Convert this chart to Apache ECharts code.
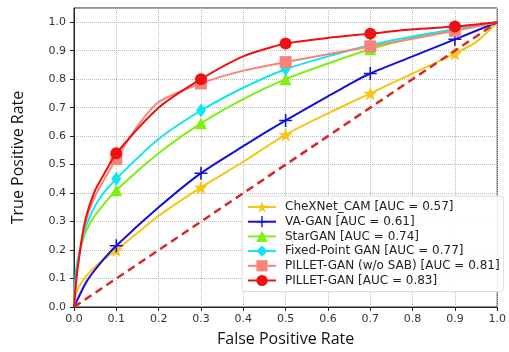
<!DOCTYPE html>
<html>
<head>
<meta charset="utf-8">
<script src="https://cdn.jsdelivr.net/npm/echarts@6/dist/echarts.min.js"></script>
<style>
  html, body { margin: 0; padding: 0; background: #fff; }
  #chart { width: 509px; height: 352px; }
</style>
</head>
<body>
<div id="chart"></div>
<script>
const markerFpr = [0.1, 0.3, 0.5, 0.7, 0.9]

const fprChexnet = [0, 0.008, 0.03, 0.06, 0.1, 0.15, 0.2, 0.3, 0.4, 0.5, 0.6, 0.7, 0.8, 0.9, 0.95, 1.0]
const tprChexnet = [0, 0.06, 0.11, 0.155, 0.2, 0.26, 0.32, 0.42, 0.51, 0.605, 0.68, 0.75, 0.82, 0.89, 0.93, 1.0]

const fprVagan = [0, 0.03, 0.06, 0.1, 0.2, 0.3, 0.4, 0.5, 0.6, 0.66, 0.7, 0.8, 0.9, 1.0]
const tprVagan = [0, 0.09, 0.15, 0.215, 0.35, 0.47, 0.565, 0.655, 0.74, 0.79, 0.82, 0.88, 0.94, 1.0]

const fprStargan = [0, 0.006, 0.02, 0.04, 0.07, 0.1, 0.2, 0.3, 0.4, 0.5, 0.6, 0.7, 0.8, 0.9, 1.0]
const tprStargan = [0, 0.12, 0.23, 0.3, 0.36, 0.41, 0.54, 0.645, 0.73, 0.8, 0.855, 0.905, 0.945, 0.975, 1.0]

const fprFixed = [0, 0.005, 0.014, 0.03, 0.06, 0.1, 0.2, 0.3, 0.4, 0.5, 0.6, 0.7, 0.8, 0.9, 1.0]
const tprFixed = [0, 0.13, 0.2, 0.29, 0.38, 0.45, 0.59, 0.69, 0.77, 0.835, 0.88, 0.92, 0.95, 0.975, 1.0]

const fprPilletNoSab = [0, 0.008, 0.026, 0.05, 0.076, 0.1, 0.15, 0.2, 0.3, 0.4, 0.5, 0.7, 0.9, 1.0]
const tprPilletNoSab = [0, 0.13, 0.29, 0.39, 0.46, 0.52, 0.635, 0.72, 0.785, 0.83, 0.86, 0.915, 0.97, 1.0]

const fprPillet = [0, 0.008, 0.026, 0.05, 0.076, 0.1, 0.2, 0.3, 0.4, 0.5, 0.6, 0.7, 0.8, 0.9, 1.0]
const tprPillet = [0, 0.13, 0.3, 0.41, 0.48, 0.54, 0.70, 0.80, 0.88, 0.925, 0.945, 0.96, 0.975, 0.985, 1.0]

const chanceLine = [[0, 0], [1, 1]]

function starPath() {
  const pts = []
  for (let k = 0; k < 10; k++) {
    const r = k % 2 === 0 ? 10 : 4
    const a = (-90 + 36 * k) * Math.PI / 180
    pts.push((10 + r * Math.cos(a)).toFixed(2) + ',' + (10 + r * Math.sin(a)).toFixed(2))
  }
  return 'path://M' + pts.join('L') + 'Z'
}

const plusPath = 'path://M4.4,0H5.6V4.4H10V5.6H5.6V10H4.4V5.6H0V4.4H4.4Z'

function curveData(xs, ys) {
  return xs.map((x, i) =>
    markerFpr.includes(x) ? [x, ys[i]] : { value: [x, ys[i]], symbol: 'none' }
  )
}

function rocSeries(name, xs, ys, color, symbol, symbolSize, z) {
  return {
    name,
    type: 'line',
    data: curveData(xs, ys),
    smooth: 0.25,
    symbol,
    symbolSize,
    showAllSymbol: true,
    z,
    lineStyle: { color, width: 2 },
    itemStyle: { color, borderWidth: 0 }
  }
}

const chart = echarts.init(document.getElementById('chart'))

chart.setOption({
  animation: false,
  textStyle: { fontFamily: 'DejaVu Sans' },
  grid: {
    left: 74,
    right: 6,
    top: 8,
    bottom: 45,
    show: true,
    borderColor: '#222',
    borderWidth: 1
  },
  legend: {
    left: 242,
    top: 196,
    orient: 'vertical',
    itemWidth: 28,
    itemHeight: 14,
    itemGap: 2.7,
    padding: [5, 4, 5, 5],
    backgroundColor: 'rgba(255,255,255,0.9)',
    borderColor: '#dddddd',
    borderWidth: 1,
    borderRadius: 3,
    textStyle: {
      fontFamily: 'DejaVu Sans',
      fontSize: 12,
      color: '#222',
      padding: [0, 0, 0, 4]
    },
    data: [
      'CheXNet_CAM [AUC = 0.57]',
      'VA-GAN [AUC = 0.61]',
      'StarGAN [AUC = 0.74]',
      'Fixed-Point GAN [AUC = 0.77]',
      'PILLET-GAN (w/o SAB) [AUC = 0.81]',
      'PILLET-GAN [AUC = 0.83]'
    ]
  },
  xAxis: {
    type: 'value',
    min: 0,
    max: 1.0,
    interval: 0.1,
    name: 'False Positive Rate',
    nameLocation: 'middle',
    nameGap: 24,
    nameTextStyle: { fontFamily: 'Open Sans', fontSize: 16, color: '#111' },
    axisLine: { show: true, onZero: false, lineStyle: { color: '#222' } },
    axisTick: { show: true, length: 4, lineStyle: { color: '#222' } },
    axisLabel: {
      color: '#333',
      fontSize: 11,
      margin: 7,
      formatter: (v) => v.toFixed(1)
    },
    splitLine: { show: true, lineStyle: { color: '#bbbbbb', type: 'dotted', width: 1 } }
  },
  yAxis: {
    type: 'value',
    min: 0,
    max: 1.05,
    interval: 0.1,
    name: 'True Positive Rate',
    nameLocation: 'middle',
    nameGap: 48,
    nameTextStyle: { fontFamily: 'Open Sans', fontSize: 16, color: '#111' },
    axisLine: { show: true, onZero: false, lineStyle: { color: '#222' } },
    axisTick: { show: true, length: 4, lineStyle: { color: '#222' } },
    axisLabel: {
      color: '#333',
      fontSize: 11,
      margin: 8,
      showMaxLabel: false,
      formatter: (v) => (v > 1.001 ? '' : v.toFixed(1))
    },
    splitLine: { show: true, lineStyle: { color: '#bbbbbb', type: 'dotted', width: 1 } }
  },
  series: [
    rocSeries('CheXNet_CAM [AUC = 0.57]', fprChexnet, tprChexnet, '#f7c518', starPath(), 14, 2),
    rocSeries('VA-GAN [AUC = 0.61]', fprVagan, tprVagan, '#1010d8', plusPath, 13, 3),
    rocSeries('StarGAN [AUC = 0.74]', fprStargan, tprStargan, '#80ee10', 'triangle', 12, 4),
    rocSeries('Fixed-Point GAN [AUC = 0.77]', fprFixed, tprFixed, '#10e6f0', 'diamond', [10, 14], 5),
    rocSeries('PILLET-GAN (w/o SAB) [AUC = 0.81]', fprPilletNoSab, tprPilletNoSab, '#f68478', 'rect', 12, 6),
    rocSeries('PILLET-GAN [AUC = 0.83]', fprPillet, tprPillet, '#ee1111', 'circle', 12, 7),
    {
      name: 'chance',
      type: 'line',
      data: chanceLine,
      symbol: 'none',
      z: 8,
      lineStyle: { color: '#d22a2a', width: 2.5, type: [8, 5] }
    }
  ]
})
</script>
</body>
</html>
